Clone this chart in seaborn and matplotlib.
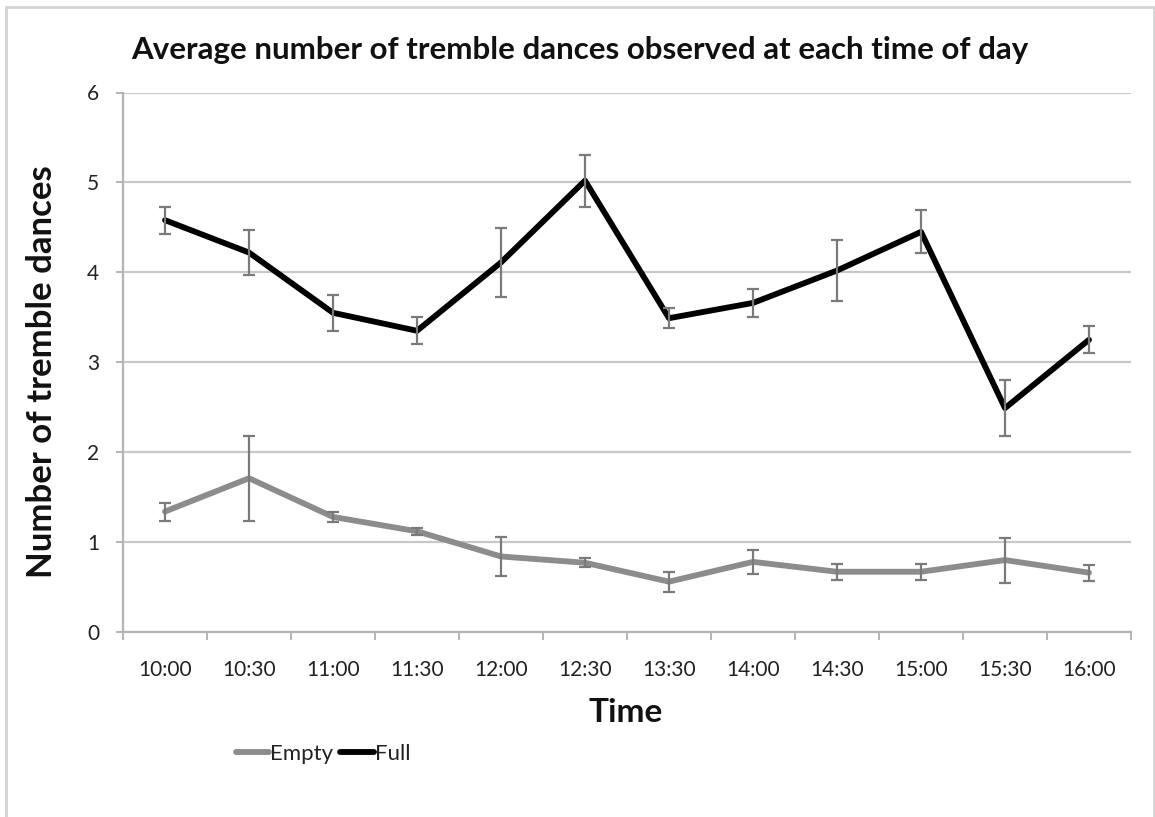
import numpy as np
import pandas as pd
import matplotlib
matplotlib.use("Agg")
import matplotlib.pyplot as plt
from matplotlib.lines import Line2D
from matplotlib.patches import Rectangle
import seaborn as sns

# Observation times and mean tremble-dance counts with their error margins
times = ["10:00", "10:30", "11:00", "11:30", "12:00", "12:30",
         "13:30", "14:00", "14:30", "15:00", "15:30", "16:00"]
empty_mean = [1.34, 1.71, 1.28, 1.12, 0.84, 0.77, 0.56, 0.78, 0.67, 0.67, 0.80, 0.66]
empty_err = [0.10, 0.47, 0.06, 0.04, 0.22, 0.05, 0.11, 0.13, 0.09, 0.09, 0.25, 0.09]
full_mean = [4.58, 4.22, 3.55, 3.35, 4.11, 5.02, 3.49, 3.66, 4.02, 4.45, 2.49, 3.25]
full_err = [0.15, 0.25, 0.20, 0.15, 0.38, 0.29, 0.11, 0.16, 0.34, 0.24, 0.31, 0.15]
y_ticks = [0, 1, 2, 3, 4, 5, 6]

sns.set_theme(style="white")
plt.rcParams["font.family"] = ["Lato", "DejaVu Sans"]

W, H = 1155, 817
fig = plt.figure(figsize=(W / 100, H / 100), dpi=100)
ax = fig.add_axes([123 / W, 1 - 632 / H, (1131 - 123) / W, (632 - 92.5) / H])

x = np.arange(len(times))
df = pd.DataFrame({
    "pos": np.concatenate([x, x]),
    "value": empty_mean + full_mean,
    "err": empty_err + full_err,
    "series": ["Empty"] * len(times) + ["Full"] * len(times),
})

palette = {"Empty": "#8c8c8c", "Full": "#000000"}
sns.lineplot(data=df, x="pos", y="value", hue="series", palette=palette,
             linewidth=4.2, legend=False, ax=ax, zorder=3)

for name in ["Empty", "Full"]:
    sub = df[df["series"] == name]
    ax.errorbar(sub["pos"], sub["value"], yerr=sub["err"], fmt="none",
                ecolor="#7a7a7a", elinewidth=1.6, capsize=4, capthick=1.6,
                zorder=4)

ax.set_xlim(-0.5, len(times) - 0.5)
ax.set_ylim(0, 6)
ax.set_yticks(y_ticks)
ax.set_yticklabels([str(v) for v in y_ticks])
ax.set_xticks(x)
ax.set_xticklabels(times)
ax.set_xticks(np.arange(-0.5, len(times)), minor=True)

ax.grid(axis="y", color="#c8c8c8", linewidth=1.6, zorder=0)
ax.grid(axis="x", visible=False)
ax.set_axisbelow(True)

for side in ["top", "right"]:
    ax.spines[side].set_visible(False)
for side in ["left", "bottom"]:
    ax.spines[side].set_color("#b4b4b4")
    ax.spines[side].set_linewidth(1.6)

ax.tick_params(axis="y", which="major", left=True, length=5, width=1.4,
               color="#b4b4b4", pad=12, labelsize=15, labelcolor="#222222")
ax.tick_params(axis="x", which="major", bottom=False, length=0, pad=20,
               labelsize=15, labelcolor="#222222")
ax.tick_params(axis="x", which="minor", bottom=True, length=6, width=1.4,
               color="#b4b4b4")
ax.set_xlabel("")
ax.set_ylabel("")

fig.text(580 / W, 1 - 50 / H,
         "Average number of tremble dances observed at each time of day",
         ha="center", va="center", fontsize=22.5, fontweight="bold", color="#111111")
fig.text(42 / W, 1 - 372 / H, "Number of tremble dances", rotation=90,
         ha="center", va="center", fontsize=25, fontweight="bold", color="#111111")
fig.text(626 / W, 1 - 713 / H, "Time", ha="center", va="center",
         fontsize=24, fontweight="bold", color="#111111")

handles = [Line2D([], [], color=palette["Empty"], linewidth=4.2),
           Line2D([], [], color=palette["Full"], linewidth=4.2)]
fig.legend(handles, ["Empty", "Full"], loc="center left",
           bbox_to_anchor=(216 / W, 1 - 754 / H), ncol=2, frameon=False,
           handlelength=1.5, handletextpad=0.05, columnspacing=0.3,
           fontsize=16, labelcolor="#222222")

# light outer frame around the chart area
fig.add_artist(Rectangle((6 / W, -0.02), (1154 - 6) / W, 1 - 7 / H + 0.02,
                         transform=fig.transFigure, fill=False,
                         edgecolor="#d4d4d4", linewidth=2))

fig.savefig("out.png", dpi=100)
